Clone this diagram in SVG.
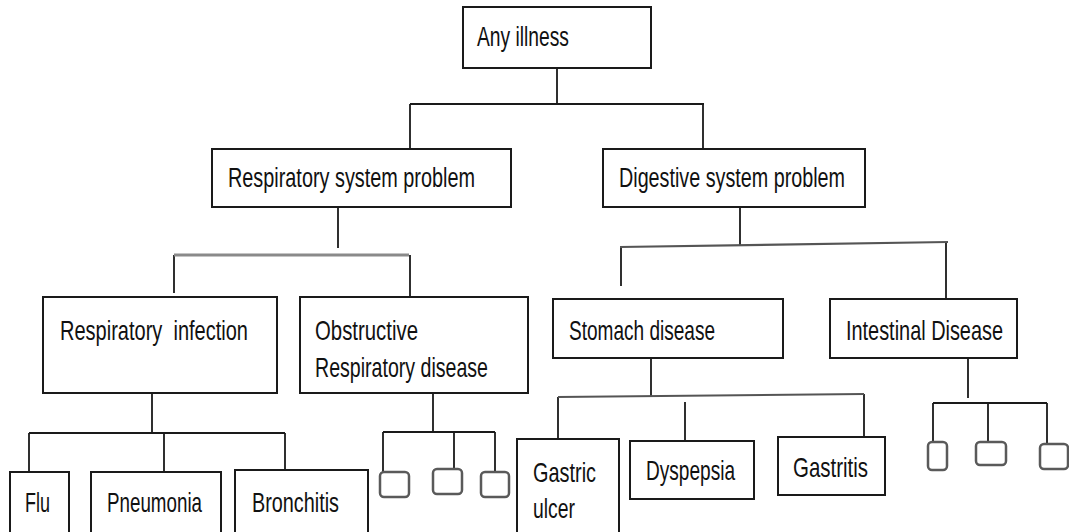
<svg xmlns="http://www.w3.org/2000/svg" width="1069" height="532" viewBox="0 0 1069 532">
<style>
.box{fill:#fff;stroke:#1a1a1a;stroke-width:2}
.sm{fill:#fff;stroke:#5a5a5a;stroke-width:2.5}
.ln{stroke:#1a1a1a;stroke-width:1.8;fill:none}
.gl{stroke:#8a8a8a;stroke-width:3;fill:none}
.gm{stroke:#555;stroke-width:2.2;fill:none}
text{font-family:"Liberation Sans",Arial,sans-serif;font-size:27.5px;fill:#111}
</style>
<rect width="1069" height="532" fill="#fff"/>
<g id="connectors">
<path class="ln" d="M557 68V104M410 104H704M410 104V149M703 104V149"/>
<path class="ln" d="M338 207V248M174 255V293M410 255V296"/>
<path class="gl" d="M174 255H409"/>
<path class="ln" d="M740 207V245M621 247V286M946 242V299"/>
<path class="gm" d="M620 247L948 242"/>
<path class="ln" d="M152 393V432M29 433H285M29 433V472M164 433V472M285 433V472"/>
<path class="ln" d="M433 393V432M383 432H495M383 432V472M454 432V469M495 432V472"/>
<path class="ln" d="M651 358V396M558 397V439M685 402V441M864 394V437"/>
<path class="gm" d="M558 397L864 394"/>
<path class="ln" d="M968 358V398M933 403H1047M933 403V442M988 403V442M1047 403V444"/>
</g>
<g id="any"><rect class="box" x="463" y="7" width="188" height="61"/><text x="477" y="46" textLength="92" lengthAdjust="spacingAndGlyphs">Any illness</text></g>
<g id="resp"><rect class="box" x="212" y="149" width="299" height="58"/><text x="228" y="187" textLength="247" lengthAdjust="spacingAndGlyphs">Respiratory system problem</text></g>
<g id="dig"><rect class="box" x="603" y="149" width="262" height="58"/><text x="619" y="187" textLength="226" lengthAdjust="spacingAndGlyphs">Digestive system problem</text></g>
<g id="respinf"><rect class="box" x="43" y="297" width="234" height="96"/><text x="60" y="340" textLength="188" lengthAdjust="spacingAndGlyphs" xml:space="preserve">Respiratory  infection</text></g>
<g id="obst"><rect class="box" x="300" y="297" width="228" height="96"/><text x="315" y="340" textLength="103" lengthAdjust="spacingAndGlyphs">Obstructive</text><text x="315" y="377" textLength="173" lengthAdjust="spacingAndGlyphs">Respiratory disease</text></g>
<g id="stomach"><rect class="box" x="553" y="299" width="230" height="59"/><text x="569" y="340" textLength="146" lengthAdjust="spacingAndGlyphs">Stomach disease</text></g>
<g id="intestinal"><rect class="box" x="830" y="299" width="187" height="59"/><text x="846" y="340" textLength="157" lengthAdjust="spacingAndGlyphs">Intestinal Disease</text></g>
<g id="flu"><rect class="box" x="10" y="472" width="59" height="70"/><text x="25" y="512" textLength="25" lengthAdjust="spacingAndGlyphs">Flu</text></g>
<g id="pneumonia"><rect class="box" x="91" y="472" width="130" height="70"/><text x="107" y="512" textLength="95" lengthAdjust="spacingAndGlyphs">Pneumonia</text></g>
<g id="bronchitis"><rect class="box" x="235" y="470" width="133" height="72"/><text x="252" y="512" textLength="87" lengthAdjust="spacingAndGlyphs">Bronchitis</text></g>
<g id="obst-sub1"><rect class="sm" x="380" y="472" width="29" height="25" rx="4"/></g>
<g id="obst-sub2"><rect class="sm" x="433" y="469" width="29" height="25" rx="4"/></g>
<g id="obst-sub3"><rect class="sm" x="481" y="472" width="28" height="25" rx="4"/></g>
<g id="gastriculcer"><rect class="box" x="517" y="439" width="102" height="103"/><text x="533" y="482" textLength="63" lengthAdjust="spacingAndGlyphs">Gastric</text><text x="533" y="518" textLength="42" lengthAdjust="spacingAndGlyphs">ulcer</text></g>
<g id="dyspepsia"><rect class="box" x="630" y="441" width="124" height="58"/><text x="646" y="480" textLength="89" lengthAdjust="spacingAndGlyphs">Dyspepsia</text></g>
<g id="gastritis"><rect class="box" x="778" y="437" width="107" height="58"/><text x="793" y="477" textLength="75" lengthAdjust="spacingAndGlyphs">Gastritis</text></g>
<g id="int-sub1"><rect class="sm" x="928" y="442" width="19" height="28" rx="4"/></g>
<g id="int-sub2"><rect class="sm" x="976" y="442" width="30" height="23" rx="4"/></g>
<g id="int-sub3"><rect class="sm" x="1040" y="444" width="28" height="25" rx="4"/></g>
</svg>
